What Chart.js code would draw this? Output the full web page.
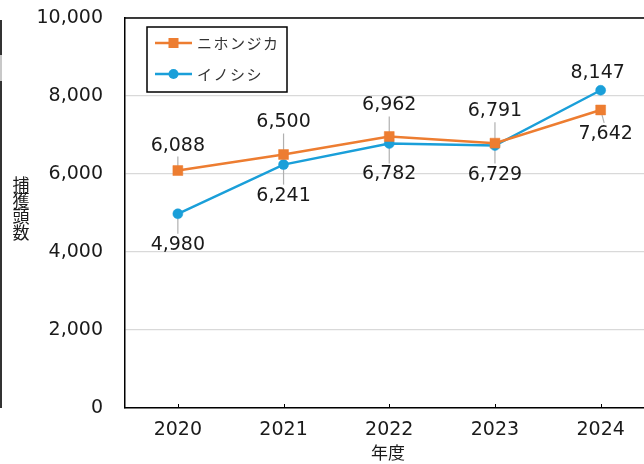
<!DOCTYPE html>
<html>
<head>
<meta charset="utf-8">
<script src="https://cdn.jsdelivr.net/npm/chart.js@4.4.1/dist/chart.umd.min.js"></script>
<style>
  html, body { margin: 0; padding: 0; background: #fff; overflow: hidden; }
  #wrap { position: relative; width: 661px; height: 464px; }
  #edge { position: absolute; left: 0; top: 20px; width: 2px; height: 388px; background: #333; }
  #edge2 { position: absolute; left: 0; top: 55px; width: 2px; height: 26px; background: #c8c8c8; }
</style>
</head>
<body>
<div id="wrap">
  <canvas id="huntChart"></canvas>
  <div id="edge"></div><div id="edge2"></div>
</div>
<script>
// fiscal years and catch counts
const years = ['2020', '2021', '2022', '2023', '2024'];
const deer = [6088, 6500, 6962, 6791, 7642];   // ニホンジカ
const boar = [4980, 6241, 6782, 6729, 8147];   // イノシシ
const yTicks = [0, 2000, 4000, 6000, 8000, 10000];

const NUM_FONT = '"DejaVu Sans", sans-serif';
const JP_FONT = '"Noto Sans CJK JP", sans-serif';
const ORANGE = '#ED7D31';
const BLUE = '#1A9FD9';

function fmt(v) {
    return v.toLocaleString('en-US');
}

// label placement: negative = above the point, positive = below
const labelOffsets = [
    [-25, -32, -31, -32, 24],
    [31, 31, 31, 29, -17]
];
// small sideways nudges of the labels
const labelShift = [
    [0, 0, 0, 0, 5],
    [0, 0, 0, 0, -3]
];

const extras = {
    id: 'extras',
    beforeDatasetsDraw(chart) {
        const ctx = chart.ctx;
        const area = chart.chartArea;
        ctx.save();
        // top border of the plot
        ctx.strokeStyle = '#000';
        ctx.lineWidth = 1.5;
        ctx.beginPath();
        ctx.moveTo(area.left, area.top);
        ctx.lineTo(area.right, area.top);
        ctx.stroke();
        // inner tick marks on x axis
        const xs = chart.scales.x;
        ctx.lineWidth = 1;
        years.forEach((y, i) => {
            const px = Math.round(xs.getPixelForTick(i)) + 0.5;
            ctx.beginPath();
            ctx.moveTo(px, area.bottom);
            ctx.lineTo(px, area.bottom - 4);
            ctx.stroke();
        });
        // leader lines
        ctx.strokeStyle = '#b0b0b0';
        ctx.lineWidth = 1.2;
        chart.data.datasets.forEach((ds, di) => {
            chart.getDatasetMeta(di).data.forEach((pt, i) => {
                const off = labelOffsets[di][i];
                if (Math.abs(off) < 20) return;
                const dir = Math.sign(off);
                ctx.beginPath();
                ctx.moveTo(pt.x, pt.y);
                ctx.lineTo(pt.x + labelShift[di][i] * 0.7, pt.y + off - dir * 11);
                ctx.stroke();
            });
        });
        ctx.restore();
    },
    afterDatasetsDraw(chart) {
        const ctx = chart.ctx;
        ctx.save();
        // data labels
        ctx.font = '19px ' + NUM_FONT;
        ctx.fillStyle = '#1a1a1a';
        ctx.textAlign = 'center';
        ctx.textBaseline = 'middle';
        chart.data.datasets.forEach((ds, di) => {
            chart.getDatasetMeta(di).data.forEach((pt, i) => {
                ctx.fillText(fmt(ds.data[i]), pt.x + labelShift[di][i], pt.y + labelOffsets[di][i]);
            });
        });

        // legend box
        const lx = 147, ly = 27, lw = 140, lh = 65;
        ctx.fillStyle = '#fff';
        ctx.fillRect(lx, ly, lw, lh);
        ctx.strokeStyle = '#000';
        ctx.lineWidth = 1.5;
        ctx.strokeRect(lx, ly, lw, lh);
        const entries = [
            { text: 'ニホンジカ', color: ORANGE, shape: 'rect', y: 43 },
            { text: 'イノシシ', color: BLUE, shape: 'circle', y: 74 }
        ];
        entries.forEach(e => {
            ctx.strokeStyle = e.color;
            ctx.lineWidth = 2.5;
            ctx.beginPath();
            ctx.moveTo(155, e.y);
            ctx.lineTo(192, e.y);
            ctx.stroke();
            ctx.fillStyle = e.color;
            if (e.shape === 'rect') {
                ctx.fillRect(168.5, e.y - 5, 10, 10);
            } else {
                ctx.beginPath();
                ctx.arc(173.5, e.y, 5, 0, Math.PI * 2);
                ctx.fill();
            }
            ctx.fillStyle = '#333';
            ctx.font = '15px ' + JP_FONT;
            ctx.textAlign = 'left';
            ctx.textBaseline = 'middle';
            if ('letterSpacing' in ctx) ctx.letterSpacing = '1.5px';
            ctx.fillText(e.text, 197, e.y);
            if ('letterSpacing' in ctx) ctx.letterSpacing = '0px';
        });

        // axis titles
        ctx.fillStyle = '#1a1a1a';
        ctx.font = '17px ' + JP_FONT;
        ctx.textAlign = 'center';
        ctx.textBaseline = 'middle';
        const yTitle = '捕獲頭数';
        for (let k = 0; k < yTitle.length; k++) {
            ctx.fillText(yTitle[k], 21, 185 + k * 16);
        }
        ctx.font = '17px ' + JP_FONT;
        ctx.fillText('年度', 388, 453);
        ctx.restore();
    }
};

const ctx = document.getElementById('huntChart').getContext('2d');
const huntChart = new Chart(ctx, {
    type: 'line',
    data: {
        labels: years,
        datasets: [{
            label: 'ニホンジカ',
            data: deer,
            borderColor: ORANGE,
            backgroundColor: ORANGE,
            borderWidth: 2.5,
            pointStyle: 'rect',
            pointRadius: 7,
            pointHoverRadius: 7,
            pointBorderWidth: 0.5,
            tension: 0
        }, {
            label: 'イノシシ',
            data: boar,
            borderColor: BLUE,
            backgroundColor: BLUE,
            borderWidth: 2.5,
            pointStyle: 'circle',
            pointRadius: 5,
            pointHoverRadius: 5,
            pointBorderWidth: 0.5,
            tension: 0
        }]
    },
    options: {
        responsive: true,
        maintainAspectRatio: false,
        animation: false,
        layout: { padding: { top: 18, left: 0, right: 0, bottom: 0 } },
        plugins: {
            legend: { display: false },
            tooltip: { enabled: false }
        },
        scales: {
            x: {
                offset: true,
                grid: { display: false },
                border: { display: true, color: '#000', width: 1.5 },
                ticks: {
                    font: { family: NUM_FONT, size: 19 },
                    color: '#1a1a1a',
                    padding: 3,
                    maxRotation: 0
                },
                afterFit(scale) {
                    scale.height = 56;
                    scale.paddingLeft = 0;
                    scale.paddingRight = 0;
                }
            },
            y: {
                min: 0,
                max: 10000,
                afterBuildTicks(scale) {
                    scale.ticks = yTicks.map(v => ({ value: v }));
                },
                grid: { color: '#d9d9d9', lineWidth: 1.2, drawTicks: false },
                border: { display: true, color: '#000', width: 1.5 },
                ticks: {
                    font: { family: NUM_FONT, size: 19 },
                    color: '#1a1a1a',
                    padding: 22,
                    callback: v => fmt(v)
                },
                afterFit(scale) {
                    scale.width = 125;
                    scale.paddingTop = 0;
                    scale.paddingBottom = 0;
                }
            }
        }
    },
    plugins: [extras]
});
</script>
</body>
</html>
